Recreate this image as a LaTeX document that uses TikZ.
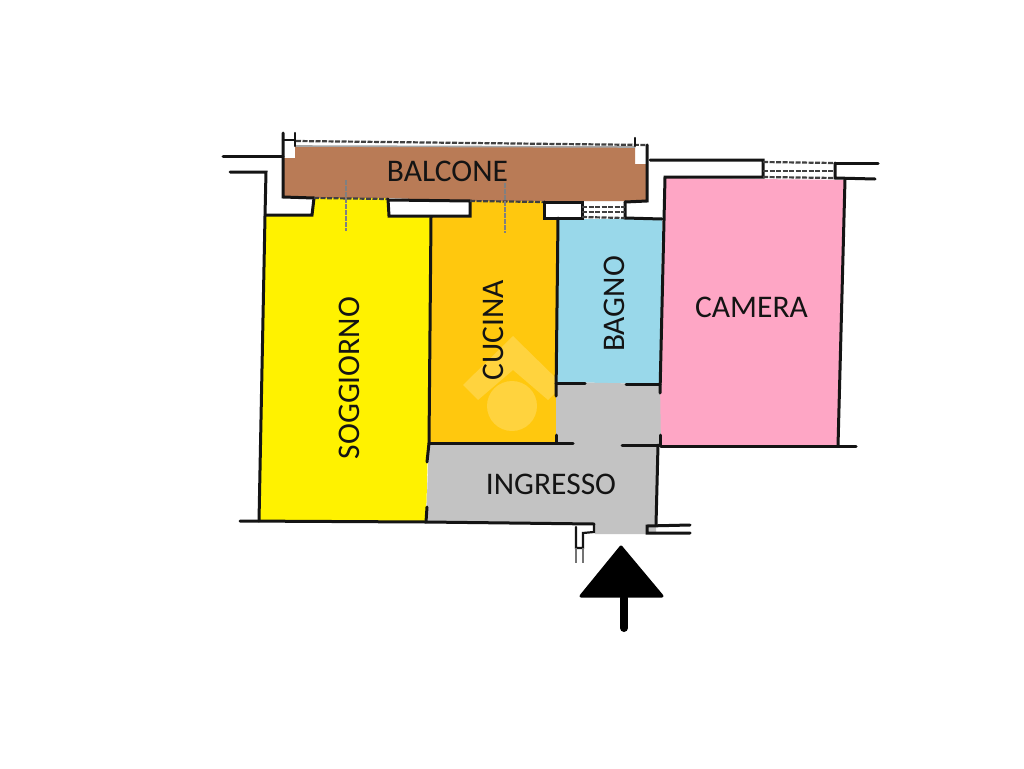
\documentclass[tikz,border=0pt]{standalone}
\usepackage{fontspec}
\setmainfont{Carlito}
\definecolor{cbal}{HTML}{B97B56}
\definecolor{cyel}{HTML}{FFF200}
\definecolor{cora}{HTML}{FFC80E}
\definecolor{ccya}{HTML}{99D8EA}
\definecolor{cpin}{HTML}{FEA6C5}
\definecolor{cgre}{HTML}{C3C3C3}
\definecolor{cink}{HTML}{141414}
\tikzset{
 wall/.style={draw=cink,line width=3pt,line cap=round,line join=miter},
 thin wall/.style={draw=cink,line width=2.2pt,line cap=round},
 hatch/.style={draw=black!75,line width=2.2pt,dash pattern=on 5pt off 1.5pt},
 tick/.style={draw=black!50,line width=2pt,dash pattern=on 5pt off 1pt},
 room/.style={font=\fontsize{31.5}{33}\selectfont,text=cink,inner sep=0pt},
}
\begin{document}
\begin{tikzpicture}[x=1pt,y=-1pt]
\useasboundingbox (0,0) rectangle (1024,768);
\fill[white] (0,0) rectangle (1024,768);
% rooms
\fill[cbal] (283,158) -- (295,158) -- (295,146) -- (635,146) -- (635,164) -- (647,164) -- (647,201) -- (545,201) -- (470,201) -- (388,198) -- (315,198) -- (283,197) -- cycle;
\fill[cyel] (265,216) -- (312,216) -- (315,198) -- (388,198) -- (389,216) -- (431,217) -- (428,444) -- (426,522) -- (259,521) -- cycle;
\fill[cora] (432,217) -- (470,217) -- (470,201) -- (543,201) -- (543,218) -- (558,218) -- (556,443) -- (429,443) -- cycle;
\fill[ccya] (558,219) -- (662,219) -- (660,384) -- (556,382) -- cycle;
\fill[cpin] (665,178) -- (845,180) -- (839,446) -- (660,446) -- (660,384) -- cycle;
\fill[cgre] (556,382) -- (660,384) -- (661,446) -- (658,446) -- (656,534) -- (595,534) -- (595,524) -- (426,522) -- (429,443) -- (556,443) -- cycle;
% watermark
\begin{scope}
\clip (432,330) rectangle (556,443);
\fill[white,opacity=.2] (512,406) circle (25);
\fill[white,opacity=.2] (463,385) -- (513,336) -- (563,385) -- (548,400) -- (513,370) -- (478,400) -- cycle;
\end{scope}
% outer walls, left part
\draw[wall] (223,156) -- (283,156);
\draw[wall] (230,172) -- (266,172) -- (265,216) -- (259,521);
\draw[wall] (265,215) -- (312,215) -- (314,198);
\draw[wall] (283,133) -- (283,197) -- (314,198);
\draw[thin wall] (295,133) -- (295,146);
\draw[thin wall] (283,140) -- (295,140);
\draw[hatch] (296,141) -- (648,145);
\draw[draw=black!35,line width=1.6pt] (296,146) -- (635,147);
\draw[thin wall] (635,138) -- (635,146);
% window recesses
\draw[hatch] (314,198) -- (388,199);
\draw[wall] (388,199) -- (389,216) -- (470,216) -- (470,201) -- (389,200);
\draw[hatch] (470,201) -- (544,202);
\draw[wall] (544,202) -- (544,218) -- (582,218) -- (582,202) -- (544,202);
\draw[wall] (625,202) -- (647,201) -- (647,145);
\draw[wall] (625,202) -- (625,218) -- (662,219);
\draw[hatch] (582,207) -- (625,207);
\draw[hatch] (582,212) -- (625,212);
\draw[hatch] (582,217) -- (625,218);
% window ticks
\draw[tick] (346,180) -- (346,231);
\draw[tick] (505,183) -- (505,233);
% interior walls
\draw[wall] (431,217) -- (429,443) -- (427,462);
\draw[wall] (427,507) -- (426,522);
\draw[wall] (558,218) -- (556,396);
\draw[wall] (556,435) -- (556,443);
\draw[wall] (660,435) -- (660,446);
\draw[wall] (658,445) -- (656,525);
\draw[wall] (556,383) -- (585,383);
\draw[wall] (626,384) -- (660,384);
\draw[wall] (429,443) -- (573,443);
\draw[wall] (622,445) -- (660,445);
% camera
\draw[wall] (650,160) -- (763,160) -- (763,177) -- (665,177) -- (660,393);
\draw[hatch] (763,162) -- (835,163);
\draw[hatch] (763,171) -- (835,171);
\draw[hatch] (763,177) -- (835,178);
\draw[wall] (835,163) -- (878,163);
\draw[wall] (835,163) -- (835,178) -- (875,179);
\draw[wall] (845,179) -- (838,446);
\draw[wall] (661,446) -- (856,446);
% bottom
\draw[wall] (240,521) -- (426,522) -- (594,524);
\draw[thin wall] (594,524) -- (594,532) -- (583,533) -- (583,548) -- (576,548) -- (576,527);
\draw[draw=black!55,line width=1.3pt] (576,548) -- (576,563);
\draw[draw=black!55,line width=1.3pt] (583,548) -- (583,563);
\draw[wall] (690,525) -- (647,526) -- (647,533) -- (690,533);
% arrow
\draw[fill=black,draw=black,line width=3pt,line join=round] (621,547) -- (662,596) -- (581,596) -- cycle;
\draw[black,line width=8pt,line cap=round] (624,598) -- (624,628);
% labels
\node[room] (balcone) at (447.5,171) {BALCONE};
\node[room,rotate=90] (soggiorno) at (349,378) {SOGGIORNO};
\node[room,rotate=90] (cucina) at (493,330) {CUCINA};
\node[room,rotate=90] (bagno) at (614,304) {BAGNO};
\node[room] (camera) at (751.5,307) {CAMERA};
\node[room] (ingresso) at (551,484) {INGRESSO};
\end{tikzpicture}
\end{document}
